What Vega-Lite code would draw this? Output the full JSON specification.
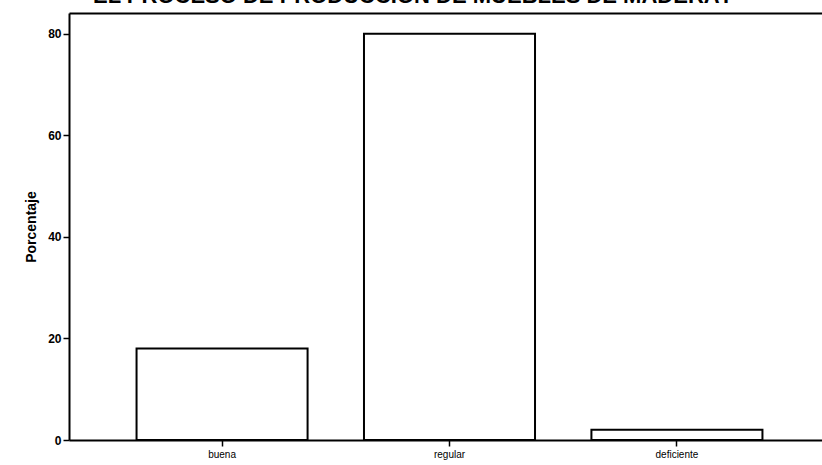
{
  "$schema": "https://vega.github.io/schema/vega-lite/v6.json",
  "width": 753,
  "height": 427,
  "autosize": {"type": "none"},
  "padding": {"left": 69, "top": 13, "right": 0, "bottom": 25},
  "background": "white",
  "config": {
    "view": {"stroke": null},
    "font": "Liberation Sans"
  },
  "title": {
    "text": "EL PROCESO DE  PRODUCCIÓN DE MUEBLES DE MADERA?",
    "font": "Liberation Sans",
    "fontSize": 22,
    "fontWeight": "bold",
    "color": "black",
    "anchor": "start",
    "frame": "group",
    "dx": 24,
    "baseline": "alphabetic",
    "offset": -12
  },
  "data": {
    "values": [
      {"categoria": "buena", "porcentaje": 18},
      {"categoria": "regular", "porcentaje": 80},
      {"categoria": "deficiente", "porcentaje": 2}
    ]
  },
  "layer": [
    {
      "mark": {"type": "bar", "fill": "white", "stroke": "black", "strokeWidth": 2},
      "encoding": {
        "x": {
          "field": "categoria",
          "type": "nominal",
          "sort": ["buena", "regular", "deficiente"],
          "scale": {"range": [0, 761], "paddingInner": 0.248, "paddingOuter": 0.297},
          "axis": {
            "orient": "bottom",
            "title": null,
            "labelAngle": 0,
            "labelFont": "Liberation Sans",
            "labelFontSize": 10,
            "labelColor": "black",
            "labelPadding": 3,
            "tickColor": "black",
            "tickSize": 6,
            "tickWidth": 1.5,
            "domainColor": "black",
            "domainWidth": 2
          }
        },
        "y": {
          "field": "porcentaje",
          "type": "quantitative",
          "scale": {"domain": [0, 84.1], "nice": false},
          "axis": {
            "title": "Porcentaje",
            "titleFont": "Liberation Sans",
            "titleFontSize": 14,
            "titleFontWeight": "bold",
            "titleColor": "black",
            "titlePadding": 9,
            "values": [0, 20, 40, 60, 80],
            "labelFont": "Liberation Sans",
            "labelFontSize": 12,
            "labelFontWeight": "bold",
            "labelColor": "black",
            "labelPadding": 2,
            "tickColor": "black",
            "tickSize": 6,
            "tickWidth": 1.5,
            "domainColor": "black",
            "domainWidth": 2,
            "grid": false
          }
        }
      }
    },
    {
      "mark": {"type": "bar", "opacity": 0},
      "encoding": {
        "x": {
          "field": "categoria",
          "type": "nominal",
          "sort": ["buena", "regular", "deficiente"],
          "axis": {
            "orient": "top",
            "title": null,
            "labels": false,
            "ticks": false,
            "domainColor": "black",
            "domainWidth": 2
          }
        },
        "y": {"field": "porcentaje", "type": "quantitative"}
      }
    }
  ],
  "resolve": {"axis": {"x": "independent"}}
}
